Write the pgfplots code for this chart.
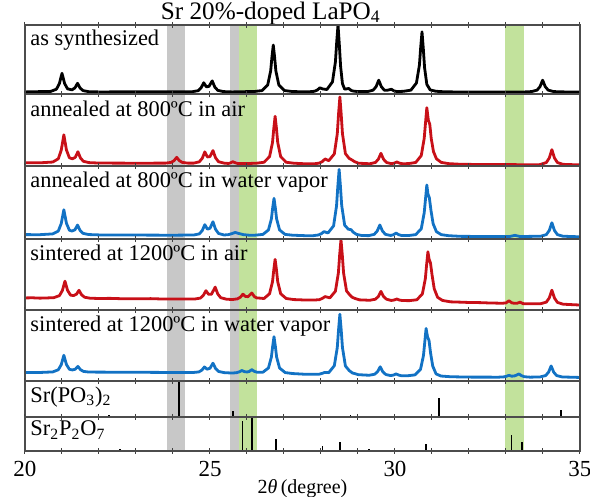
\documentclass[border=0pt]{standalone}
\usepackage{fontspec}
\setmainfont{Liberation Serif}
\usepackage{pgfplots}
\pgfplotsset{compat=1.18}
\usetikzlibrary{calc}
\definecolor{cblack}{RGB}{0,0,0}
\definecolor{cred}{RGB}{200,16,24}
\definecolor{cblue}{RGB}{18,114,196}
\definecolor{bgray}{RGB}{200,200,200}
\definecolor{bgreen}{RGB}{194,226,156}
\newcommand{\lab}{\fontsize{11.2}{13}\selectfont}
\newcommand{\ttl}{\fontsize{12.6}{14}\selectfont}
\pgfplotsset{
  panel/.style={scale only axis, width=277.5pt, xmin=20, xmax=35, ymin=0, ymax=1,
    xtick={20,25,30,35}, minor xtick={21,22,23,24,26,27,28,29,31,32,33,34},
    ytick=\empty, xtick align=center, major tick length=3pt, minor tick length=3pt,
    tick style={black!75, line width=0.5pt},
    axis line style={black!70, line width=0.6pt},
    axis on top, anchor=north west, clip mode=individual},
  nolab/.style={xticklabel=\empty},
  curve/.style={line width=1.4pt, line join=round, no marks},
  band/.style={draw=none, fill=#1, forget plot},
}
\newcommand{\bands}{%
  \addplot[band=bgray] coordinates {(23.84,0)(23.84,1)(24.32,1)(24.32,0)} --cycle;
  \addplot[band=bgray] coordinates {(25.54,0)(25.54,1)(25.78,1)(25.78,0)} --cycle;
  \addplot[band=bgreen] coordinates {(25.78,0)(25.78,1)(26.27,1)(26.27,0)} --cycle;
  \addplot[band=bgreen] coordinates {(32.97,0)(32.97,1)(33.49,1)(33.49,0)} --cycle;
}
\begin{document}
\begin{tikzpicture}
% ---------- panel 1: as synthesized
\begin{axis}[panel, nolab, name=p1, at={(0,0)}, height=34.5pt]
\bands
\addplot[curve, cblack] coordinates {(20,0.03) (20.7,0.038) (20.85,0.07) (20.93,0.152) (21.0,0.30) (21.07,0.152) (21.15,0.075) (21.27,0.06) (21.35,0.089) (21.42,0.155) (21.49,0.086) (21.57,0.049) (21.72,0.034) (22.0,0.03) (24.53,0.034) (24.68,0.048) (24.76,0.089) (24.83,0.163) (24.9,0.105) (24.97,0.109) (25.06,0.19) (25.13,0.10) (25.21,0.053) (25.36,0.035) (25.6,0.03) (26.21,0.037) (26.41,0.05) (26.56,0.132) (26.64,0.336) (26.675,0.54) (26.71,0.71) (26.745,0.54) (26.78,0.336) (26.86,0.132) (27.01,0.05) (27.21,0.037) (27.5,0.031) (27.67,0.032) (27.82,0.039) (27.9,0.057) (27.97,0.09) (28.04,0.074) (28.16,0.065) (28.31,0.176) (28.39,0.467) (28.425,0.758) (28.46,1.0) (28.495,0.72) (28.53,0.40) (28.58,0.15) (28.64,0.07) (28.7,0.075) (28.75,0.08) (28.82,0.05) (28.9,0.04) (29.0,0.036) (29.26,0.035) (29.41,0.056) (29.49,0.107) (29.56,0.2) (29.63,0.107) (29.71,0.056) (29.8,0.055) (29.9,0.069) (29.97,0.046) (30.05,0.035) (30.23,0.039) (30.43,0.056) (30.58,0.16) (30.66,0.42) (30.695,0.68) (30.73,0.90) (30.765,0.66) (30.80,0.38) (30.86,0.14) (30.95,0.06) (31.1,0.04) (31.3,0.033) (31.6,0.03) (33.5,0.03) (33.69,0.035) (33.84,0.056) (33.92,0.107) (33.99,0.20) (34.06,0.107) (34.14,0.056) (34.29,0.035) (34.6,0.03) (35,0.03)};
\node[anchor=base west, inner sep=0pt, font=\lab, xshift=2.5pt, yshift=-10.5pt] at (rel axis cs:0,1) {as synthesized};
\node[anchor=base, inner sep=0pt, font=\ttl, yshift=3pt] at (rel axis cs:0.443,1) {Sr 20\%-doped LaPO\textsubscript{4}};
\end{axis}
% ---------- panel 2: annealed 800 air
\begin{axis}[panel, nolab, name=p2, at={(p1.south west)}, height=36pt]
\bands
\addplot[curve, cred] coordinates {(20,0.045) (20.4,0.044) (20.75,0.055) (20.9,0.10) (20.98,0.22) (21.05,0.433) (21.12,0.223) (21.2,0.114) (21.28,0.10) (21.36,0.121) (21.43,0.198) (21.5,0.11) (21.58,0.065) (21.73,0.047) (22.0,0.041) (23.0,0.039) (23.8,0.04) (23.95,0.05) (24.03,0.075) (24.1,0.12) (24.17,0.075) (24.25,0.05) (24.4,0.04) (24.56,0.04) (24.71,0.058) (24.79,0.106) (24.86,0.196) (24.93,0.126) (25.0,0.131) (25.08,0.214) (25.15,0.114) (25.23,0.06) (25.38,0.04) (25.5,0.035) (25.56,0.045) (25.62,0.06) (25.68,0.045) (25.75,0.035) (26.0,0.034) (26.26,0.039) (26.46,0.052) (26.61,0.13) (26.69,0.328) (26.725,0.526) (26.76,0.69) (26.795,0.526) (26.83,0.328) (26.91,0.13) (27.06,0.052) (27.26,0.039) (27.6,0.03) (27.81,0.03) (27.96,0.041) (28.04,0.063) (28.11,0.098) (28.21,0.074) (28.36,0.168) (28.44,0.447) (28.475,0.726) (28.51,0.958) (28.545,0.726) (28.58,0.449) (28.66,0.172) (28.76,0.106) (28.84,0.083) (28.91,0.06) (29.01,0.039) (29.32,0.031) (29.47,0.049) (29.55,0.094) (29.62,0.176) (29.69,0.094) (29.77,0.049) (29.9,0.032) (29.98,0.04) (30.05,0.056) (30.12,0.04) (30.2,0.032) (30.36,0.033) (30.56,0.049) (30.71,0.145) (30.79,0.385) (30.825,0.6) (30.86,0.81) (30.9,0.64) (30.94,0.58) (30.98,0.38) (31.04,0.2) (31.12,0.1) (31.25,0.05) (31.45,0.033) (31.8,0.023) (33.9,0.017) (33.94,0.0235) (34.09,0.048) (34.17,0.111) (34.24,0.227) (34.31,0.111) (34.39,0.048) (34.54,0.023) (35,0.015)};
\node[anchor=base west, inner sep=0pt, font=\lab, xshift=2.5pt, yshift=-11pt] at (rel axis cs:0,1) {annealed at 800ºC in air};
\end{axis}
% ---------- panel 3: annealed 800 water vapor
\begin{axis}[panel, nolab, name=p3, at={(p2.south west)}, height=36.5pt]
\bands
\addplot[curve, cblue] coordinates {(20,0.06) (20.4,0.059) (20.75,0.07) (20.9,0.109) (20.98,0.212) (21.05,0.40) (21.12,0.216) (21.2,0.12) (21.27,0.109) (21.35,0.126) (21.42,0.191) (21.49,0.116) (21.57,0.077) (21.72,0.061) (22.0,0.056) (24.0,0.052) (24.56,0.055) (24.71,0.07) (24.79,0.115) (24.86,0.196) (24.93,0.135) (25.0,0.147) (25.08,0.236) (25.15,0.133) (25.23,0.076) (25.38,0.055) (25.5,0.06) (25.6,0.075) (25.68,0.09) (25.78,0.075) (25.9,0.06) (26.1,0.05) (26.23,0.053) (26.43,0.063) (26.58,0.124) (26.66,0.277) (26.695,0.43) (26.73,0.557) (26.765,0.43) (26.80,0.277) (26.88,0.124) (27.03,0.063) (27.23,0.052) (27.6,0.045) (27.78,0.045) (27.93,0.055) (28.01,0.073) (28.08,0.101) (28.19,0.083) (28.34,0.18) (28.42,0.453) (28.455,0.723) (28.49,0.953) (28.525,0.723) (28.56,0.457) (28.64,0.188) (28.74,0.134) (28.81,0.128) (28.88,0.09) (28.96,0.063) (29.1,0.048) (29.29,0.046) (29.44,0.064) (29.52,0.11) (29.59,0.192) (29.66,0.11) (29.74,0.064) (29.88,0.048) (29.96,0.059) (30.03,0.081) (30.1,0.059) (30.18,0.048) (30.36,0.047) (30.56,0.06) (30.71,0.14) (30.79,0.36) (30.825,0.55) (30.86,0.74) (30.89,0.62) (30.93,0.56) (30.97,0.40) (31.03,0.21) (31.12,0.1) (31.25,0.06) (31.45,0.045) (31.8,0.036) (33.1,0.034) (33.24,0.05) (33.38,0.034) (33.94,0.038) (34.09,0.06) (34.17,0.117) (34.24,0.222) (34.31,0.117) (34.39,0.06) (34.54,0.038) (35,0.03)};
\node[anchor=base west, inner sep=0pt, font=\lab, xshift=2.5pt, yshift=-11pt] at (rel axis cs:0,1) {annealed at 800ºC in water vapor};
\end{axis}
% ---------- panel 4: sintered 1200 air
\begin{axis}[panel, nolab, name=p4, at={(p3.south west)}, height=35.5pt]
\bands
\addplot[curve, cred] coordinates {(20,0.17) (20.2,0.172) (20.4,0.167) (20.6,0.17) (20.78,0.174) (20.93,0.202) (21.01,0.274) (21.08,0.406) (21.15,0.277) (21.23,0.21) (21.31,0.203) (21.39,0.222) (21.46,0.277) (21.53,0.214) (21.61,0.18) (21.76,0.166) (22.0,0.162) (22.3,0.164) (22.6,0.159) (23.0,0.158) (23.4,0.16) (23.7,0.155) (24.0,0.154) (24.3,0.156) (24.59,0.155) (24.74,0.168) (24.82,0.206) (24.89,0.272) (24.96,0.221) (25.04,0.221) (25.14,0.322) (25.21,0.226) (25.29,0.173) (25.44,0.153) (25.6,0.147) (25.74,0.157) (25.82,0.18) (25.89,0.223) (25.96,0.19) (26.03,0.188) (26.13,0.24) (26.2,0.188) (26.26,0.171) (26.46,0.162) (26.61,0.229) (26.69,0.40) (26.725,0.571) (26.76,0.713) (26.795,0.571) (26.83,0.40) (26.91,0.229) (27.06,0.162) (27.26,0.147) (27.6,0.14) (27.81,0.14) (27.96,0.146) (28.04,0.165) (28.11,0.189) (28.24,0.171) (28.39,0.265) (28.47,0.523) (28.505,0.781) (28.54,0.99) (28.575,0.78) (28.61,0.523) (28.69,0.268) (28.77,0.218) (28.84,0.181) (28.91,0.164) (29.04,0.143) (29.32,0.137) (29.47,0.152) (29.55,0.19) (29.62,0.262) (29.69,0.19) (29.77,0.152) (29.9,0.134) (29.98,0.141) (30.05,0.155) (30.12,0.14) (30.2,0.133) (30.39,0.132) (30.59,0.144) (30.74,0.226) (30.82,0.44) (30.855,0.64) (30.89,0.82) (30.92,0.72) (30.96,0.66) (31.0,0.5) (31.06,0.3) (31.15,0.18) (31.28,0.135) (31.5,0.115) (31.8,0.11) (32.0,0.106) (32.3,0.104) (32.5,0.1) (32.9,0.095) (33.0,0.1) (33.08,0.13) (33.16,0.1) (33.24,0.094) (33.3,0.095) (33.38,0.11) (33.46,0.09) (33.6,0.087) (33.94,0.089) (34.09,0.111) (34.17,0.17) (34.24,0.279) (34.31,0.168) (34.39,0.107) (34.54,0.082) (34.8,0.075) (35,0.07)};
\node[anchor=base west, inner sep=0pt, font=\lab, xshift=2.5pt, yshift=-10.5pt] at (rel axis cs:0,1) {sintered at 1200ºC in air};
\end{axis}
% ---------- panel 5: sintered 1200 water vapor
\begin{axis}[panel, nolab, name=p5, at={(p4.south west)}, height=35.5pt]
\bands
\addplot[curve, cblue] coordinates {(20,0.12) (20.4,0.12) (20.75,0.128) (20.9,0.158) (20.98,0.23) (21.05,0.362) (21.12,0.232) (21.2,0.165) (21.28,0.156) (21.36,0.166) (21.43,0.206) (21.5,0.159) (21.58,0.135) (21.73,0.126) (22.0,0.125) (23.0,0.123) (24.0,0.12) (24.55,0.12) (24.7,0.128) (24.78,0.153) (24.85,0.198) (24.92,0.166) (25.0,0.18) (25.08,0.251) (25.15,0.176) (25.23,0.135) (25.38,0.118) (25.6,0.112) (25.71,0.117) (25.79,0.128) (25.86,0.148) (25.93,0.132) (26.0,0.127) (26.06,0.134) (26.13,0.16) (26.2,0.135) (26.28,0.122) (26.43,0.124) (26.58,0.183) (26.66,0.339) (26.695,0.494) (26.73,0.624) (26.765,0.494) (26.80,0.339) (26.88,0.183) (27.03,0.119) (27.23,0.105) (27.6,0.094) (27.95,0.096) (28.03,0.107) (28.1,0.121) (28.21,0.118) (28.36,0.215) (28.44,0.471) (28.475,0.726) (28.51,0.94) (28.545,0.726) (28.58,0.471) (28.66,0.212) (28.76,0.148) (28.85,0.113) (28.92,0.103) (29.01,0.089) (29.3,0.081) (29.45,0.095) (29.53,0.132) (29.6,0.2) (29.67,0.13) (29.75,0.092) (29.88,0.076) (29.96,0.084) (30.03,0.1) (30.1,0.083) (30.18,0.073) (30.34,0.074) (30.54,0.086) (30.69,0.164) (30.77,0.36) (30.805,0.55) (30.84,0.74) (30.88,0.62) (30.92,0.57) (30.96,0.4) (31.02,0.21) (31.11,0.1) (31.24,0.07) (31.5,0.06) (32.0,0.055) (32.8,0.054) (32.94,0.058) (33.01,0.066) (33.08,0.08) (33.15,0.068) (33.22,0.07) (33.28,0.082) (33.35,0.099) (33.42,0.075) (33.5,0.06) (33.65,0.054) (33.92,0.057) (34.07,0.076) (34.15,0.124) (34.22,0.212) (34.29,0.124) (34.37,0.076) (34.52,0.057) (35,0.05)};
\node[anchor=base west, inner sep=0pt, font=\lab, xshift=2.5pt, yshift=-10.5pt] at (rel axis cs:0,1) {sintered at 1200ºC in water vapor};
\end{axis}
% ---------- panel 6: Sr(PO3)2
\begin{axis}[panel, nolab, name=p6, at={(p5.south west)}, height=18pt]
\bands
\addplot[ycomb, black, line width=0.9pt, no marks] coordinates {(22.27,0.05) (24.17,1.0) (25.63,0.17) (28.8,0.05) (31.19,0.54) (34.48,0.2)};
\node[anchor=base west, inner sep=0pt, font=\lab, xshift=2.5pt, yshift=-10.5pt] at (rel axis cs:0,1) {Sr(PO\textsubscript{3})\textsubscript{2}};
\end{axis}
% ---------- panel 7: Sr2P2O7
\begin{axis}[panel, name=p7, at={(p6.south west)}, height=17pt,
  /pgf/number format/assume math mode=true,
  tick label style={font=\fontsize{11.5}{13}\selectfont},
  xlabel={2\textit{θ}\,(degree)},
  xlabel style={at={(rel axis cs:0.5,0)}, anchor=north, yshift=-14pt, inner sep=0pt, font=\fontsize{10}{12}\selectfont}]
\bands
\addplot[ycomb, black, line width=0.9pt, no marks] coordinates {(22.57,0.07) (24.1,0.03) (25.88,0.88) (26.79,0.34) (27.07,0.03) (28.04,0.15) (28.52,0.25) (28.9,0.02) (29.29,0.07) (30.83,0.2) (33.15,0.46) (33.43,0.25) (33.84,0.03)};
\addplot[ycomb, black, line width=1.3pt, no marks] coordinates {(26.13,1.0)};
\node[anchor=base west, inner sep=0pt, font=\lab, xshift=2.5pt, yshift=-9.5pt] at (rel axis cs:0,1) {Sr\textsubscript{2}P\textsubscript{2}O\textsubscript{7}};
\end{axis}
\pgfresetboundingbox
\path ($(p1.north west)+(-12.5pt,12.5pt)$) rectangle ($(p7.south east)+(5pt,-23pt)$);
\end{tikzpicture}
\end{document}
